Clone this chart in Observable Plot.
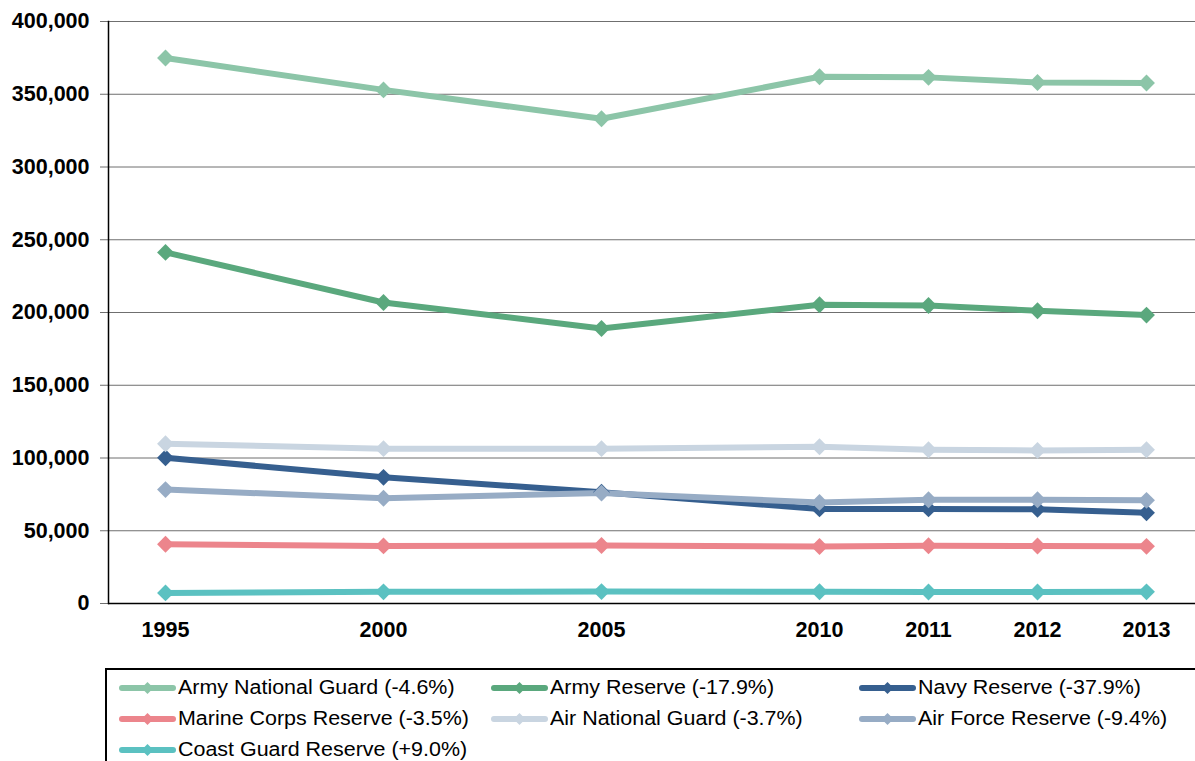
<!DOCTYPE html>
<html><head><meta charset="utf-8">
<script src="https://cdn.jsdelivr.net/npm/d3@7"></script>
<script src="https://cdn.jsdelivr.net/npm/@observablehq/plot@0.6"></script>
<style>
body{margin:0;background:#fff;font-family:"Liberation Sans",Arial,sans-serif;overflow:hidden;}
#chart{position:absolute;left:0;top:0;}
#legend{position:absolute;left:105px;top:668px;width:1100px;height:110px;border-top:2px solid #000;border-left:2px solid #000;box-sizing:border-box;padding:2px 0 0 11px;display:grid;grid-template-columns:372px 368px auto;grid-auto-rows:31px;font-size:19.5px;color:#000;}
.item{display:flex;align-items:center;white-space:nowrap;}
.item svg{margin-right:2px;flex:none;}
.item span{display:inline-block;transform:scaleX(1.1);transform-origin:left center;}
</style></head><body>
<div id="chart"></div>
<div id="legend"></div>
<script>
const years = ["1995","2000","2005","2010","2011","2012","2013"];
// axis slots: the original spaces the five-year steps twice as wide as the one-year steps
const slots = ["1995","gap1","2000","gap2","2005","gap3","2010","2011","2012","2013"];
const seriesNames = ["Army National Guard (-4.6%)","Army Reserve (-17.9%)","Navy Reserve (-37.9%)","Marine Corps Reserve (-3.5%)","Air National Guard (-3.7%)","Air Force Reserve (-9.4%)","Coast Guard Reserve (+9.0%)"];
const seriesColors = ["#8cc5a8","#5aa87d","#365f8f","#ec858c","#c9d5e1","#97acc5","#5bc1c1"];
const armyNationalGuard = [374900, 353000, 333200, 362000, 361600, 358100, 357700];
const armyReserve = [241300, 206900, 189000, 205300, 204800, 201200, 198200];
const navyReserve = [100200, 86700, 76500, 65000, 65000, 64800, 62300];
const marineCorpsReserve = [40700, 39600, 39900, 39200, 39700, 39500, 39300];
const airNationalGuard = [109800, 106400, 106400, 107700, 105700, 105200, 105700];
const airForceReserve = [78300, 72300, 75900, 69500, 71300, 71300, 70900];
const coastGuardReserve = [7300, 8000, 8200, 8100, 7900, 7900, 8000];
const yTicks = [0, 50000, 100000, 150000, 200000, 250000, 300000, 350000, 400000];

const valueArrays = [armyNationalGuard, armyReserve, navyReserve, marineCorpsReserve, airNationalGuard, airForceReserve, coastGuardReserve];
const rows = [];
seriesNames.forEach((s, i) => years.forEach((y, j) => rows.push({series: s, year: y, value: valueArrays[i][j]})));

const chart = Plot.plot({
  width: 1195,
  height: 660,
  marginLeft: 108,
  marginRight: 0,
  marginTop: 21,
  marginBottom: 57,
  style: {fontFamily: "'Liberation Sans', Arial, sans-serif", background: "white", overflow: "visible"},
  x: {type: "point", domain: slots, padding: 0.46, align: 0.535},
  y: {domain: [0, 400000]},
  color: {domain: seriesNames, range: seriesColors},
  marks: [
    Plot.ruleY(yTicks.filter(d => d > 0), {stroke: "#6f6f6f", strokeWidth: 1}),
    Plot.axisY(yTicks, {tickSize: 8, tickPadding: 11, tickFormat: d3.format(","), fontSize: 21.5, fontWeight: "bold", stroke: "#6f6f6f", fill: "#000", strokeOpacity: 1, label: null}),
    Plot.axisX(years, {tickSize: 0, tickPadding: 18, fontSize: 21.5, fontWeight: "bold", fill: "#000", label: null}),
    Plot.ruleY([0], {stroke: "#000", strokeWidth: 1.5}),
    Plot.frame({anchor: "left", stroke: "#000", strokeWidth: 1.5}),
    Plot.line(rows, {x: "year", y: "value", z: "series", stroke: "series", strokeWidth: 6, strokeLinejoin: "round", strokeLinecap: "round"}),
    Plot.dot(rows, {x: "year", y: "value", fill: "series", symbol: "diamond2", r: 7.6})
  ]
});
document.getElementById("chart").appendChild(chart);

const legend = d3.select("#legend");
seriesNames.forEach((s, i) => {
  const item = legend.append("div").attr("class", "item");
  const svg = item.append("svg").attr("width", 58).attr("height", 14);
  svg.append("line").attr("x1", 4).attr("x2", 55).attr("y1", 7).attr("y2", 7)
    .attr("stroke", seriesColors[i]).attr("stroke-width", 6).attr("stroke-linecap", "round");
  svg.append("path").attr("d", "M29.5,1 L35.5,7 L29.5,13 L23.5,7 Z").attr("fill", seriesColors[i]);
  item.append("span").text(s);
});
</script>
</body></html>
